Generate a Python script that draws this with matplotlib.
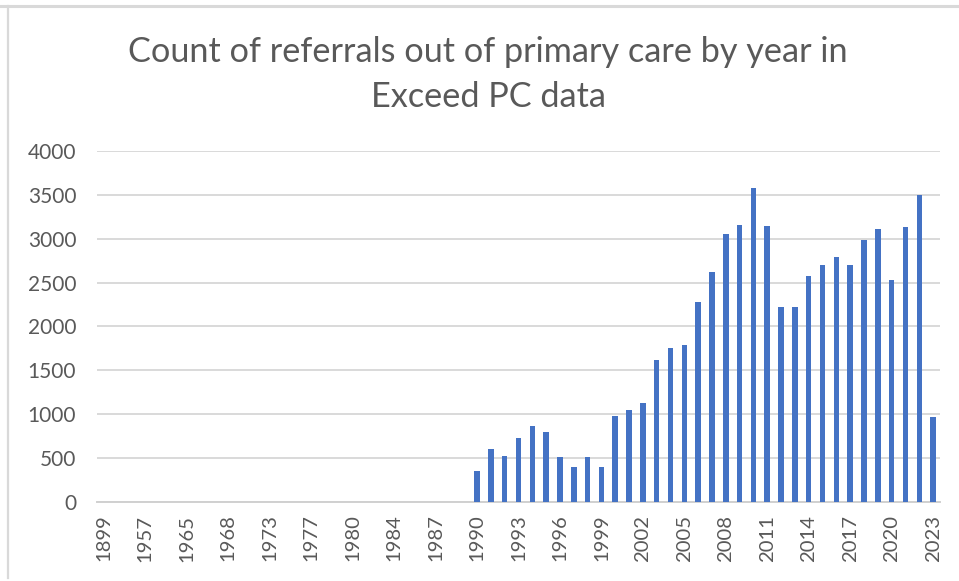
import matplotlib
matplotlib.use("Agg")
import matplotlib.pyplot as plt
from matplotlib.lines import Line2D

years = ["1899", "1900", "1950", "1957", "1960", "1963", "1965", "1966", "1967",
         "1968", "1970", "1972", "1973", "1975", "1976", "1977", "1978", "1979",
         "1980", "1981", "1983", "1984", "1985", "1986", "1987", "1988", "1989",
         "1990", "1991", "1992", "1993", "1994", "1995", "1996", "1997", "1998",
         "1999", "2000", "2001", "2002", "2003", "2004", "2005", "2006", "2007",
         "2008", "2009", "2010", "2011", "2012", "2013", "2014", "2015", "2016",
         "2017", "2018", "2019", "2020", "2021", "2022", "2023"]
counts = [1, 1, 1, 1, 1, 1, 1, 1, 1,
          1, 1, 1, 1, 1, 1, 1, 1, 1,
          1, 1, 1, 2, 1, 2, 2, 3, 4,
          357, 604, 528, 733, 866, 794, 513, 399, 513,
          399, 983, 1052, 1128, 1621, 1754, 1785, 2282, 2616,
          3057, 3159, 3581, 3144, 2225, 2225, 2574, 2703, 2795,
          2703, 2985, 3114, 2533, 3129, 3497, 968]
y_ticks = [0, 500, 1000, 1500, 2000, 2500, 3000, 3500, 4000]
title_lines = ["Count of referrals out of primary care by year in", "Exceed PC data"]

W, H = 959, 581
fig = plt.figure(figsize=(W / 100, H / 100), dpi=100)
fig.patch.set_facecolor("white")
font = ["Lato", "DejaVu Sans"]
txt = "#595959"
grid = "#d9d9d9"

# chart border (top and left visible)
fig.add_artist(Line2D([0, 1], [1 - 6 / H, 1 - 6 / H], transform=fig.transFigure, color="#d9d9d9", lw=2.2))
fig.add_artist(Line2D([8 / W, 8 / W], [1 - 6 / H, 3 / H], transform=fig.transFigure, color="#d9d9d9", lw=1.6))

ax = fig.add_axes([97 / W, 79 / H, (940 - 97) / W, 351 / H])
x = list(range(len(years)))
ax.bar(x, counts, width=0.4, color="#4472C4", zorder=3)
ax.set_xlim(-0.5, len(years) - 0.5)
ax.set_ylim(0, 4000)
ax.set_yticks(y_ticks)
ax.set_yticklabels([str(v) for v in y_ticks])
ax.yaxis.grid(True, color=grid, lw=1.4, zorder=0)
ax.set_axisbelow(True)
for s in ["top", "right", "left"]:
    ax.spines[s].set_visible(False)
ax.spines["bottom"].set_color("#d0d0d0")
ax.spines["bottom"].set_linewidth(1.4)
ax.set_xticks(x[::3])
ax.set_xticklabels(years[::3], rotation=90)
ax.tick_params(axis="x", length=0, pad=9, labelsize=14.6, labelcolor=txt)
ax.tick_params(axis="y", length=0, pad=15, labelsize=15, labelcolor=txt)
for lab in ax.get_xticklabels() + ax.get_yticklabels():
    lab.set_fontfamily(font)

fig.text(488 / W, 1 - 52 / H, title_lines[0], ha="center", va="center",
         fontsize=24.7, color=txt, family=font)
fig.text(488 / W, 1 - 97 / H, title_lines[1], ha="center", va="center",
         fontsize=24.7, color=txt, family=font)

fig.savefig("out.png", dpi=100, facecolor="white")
